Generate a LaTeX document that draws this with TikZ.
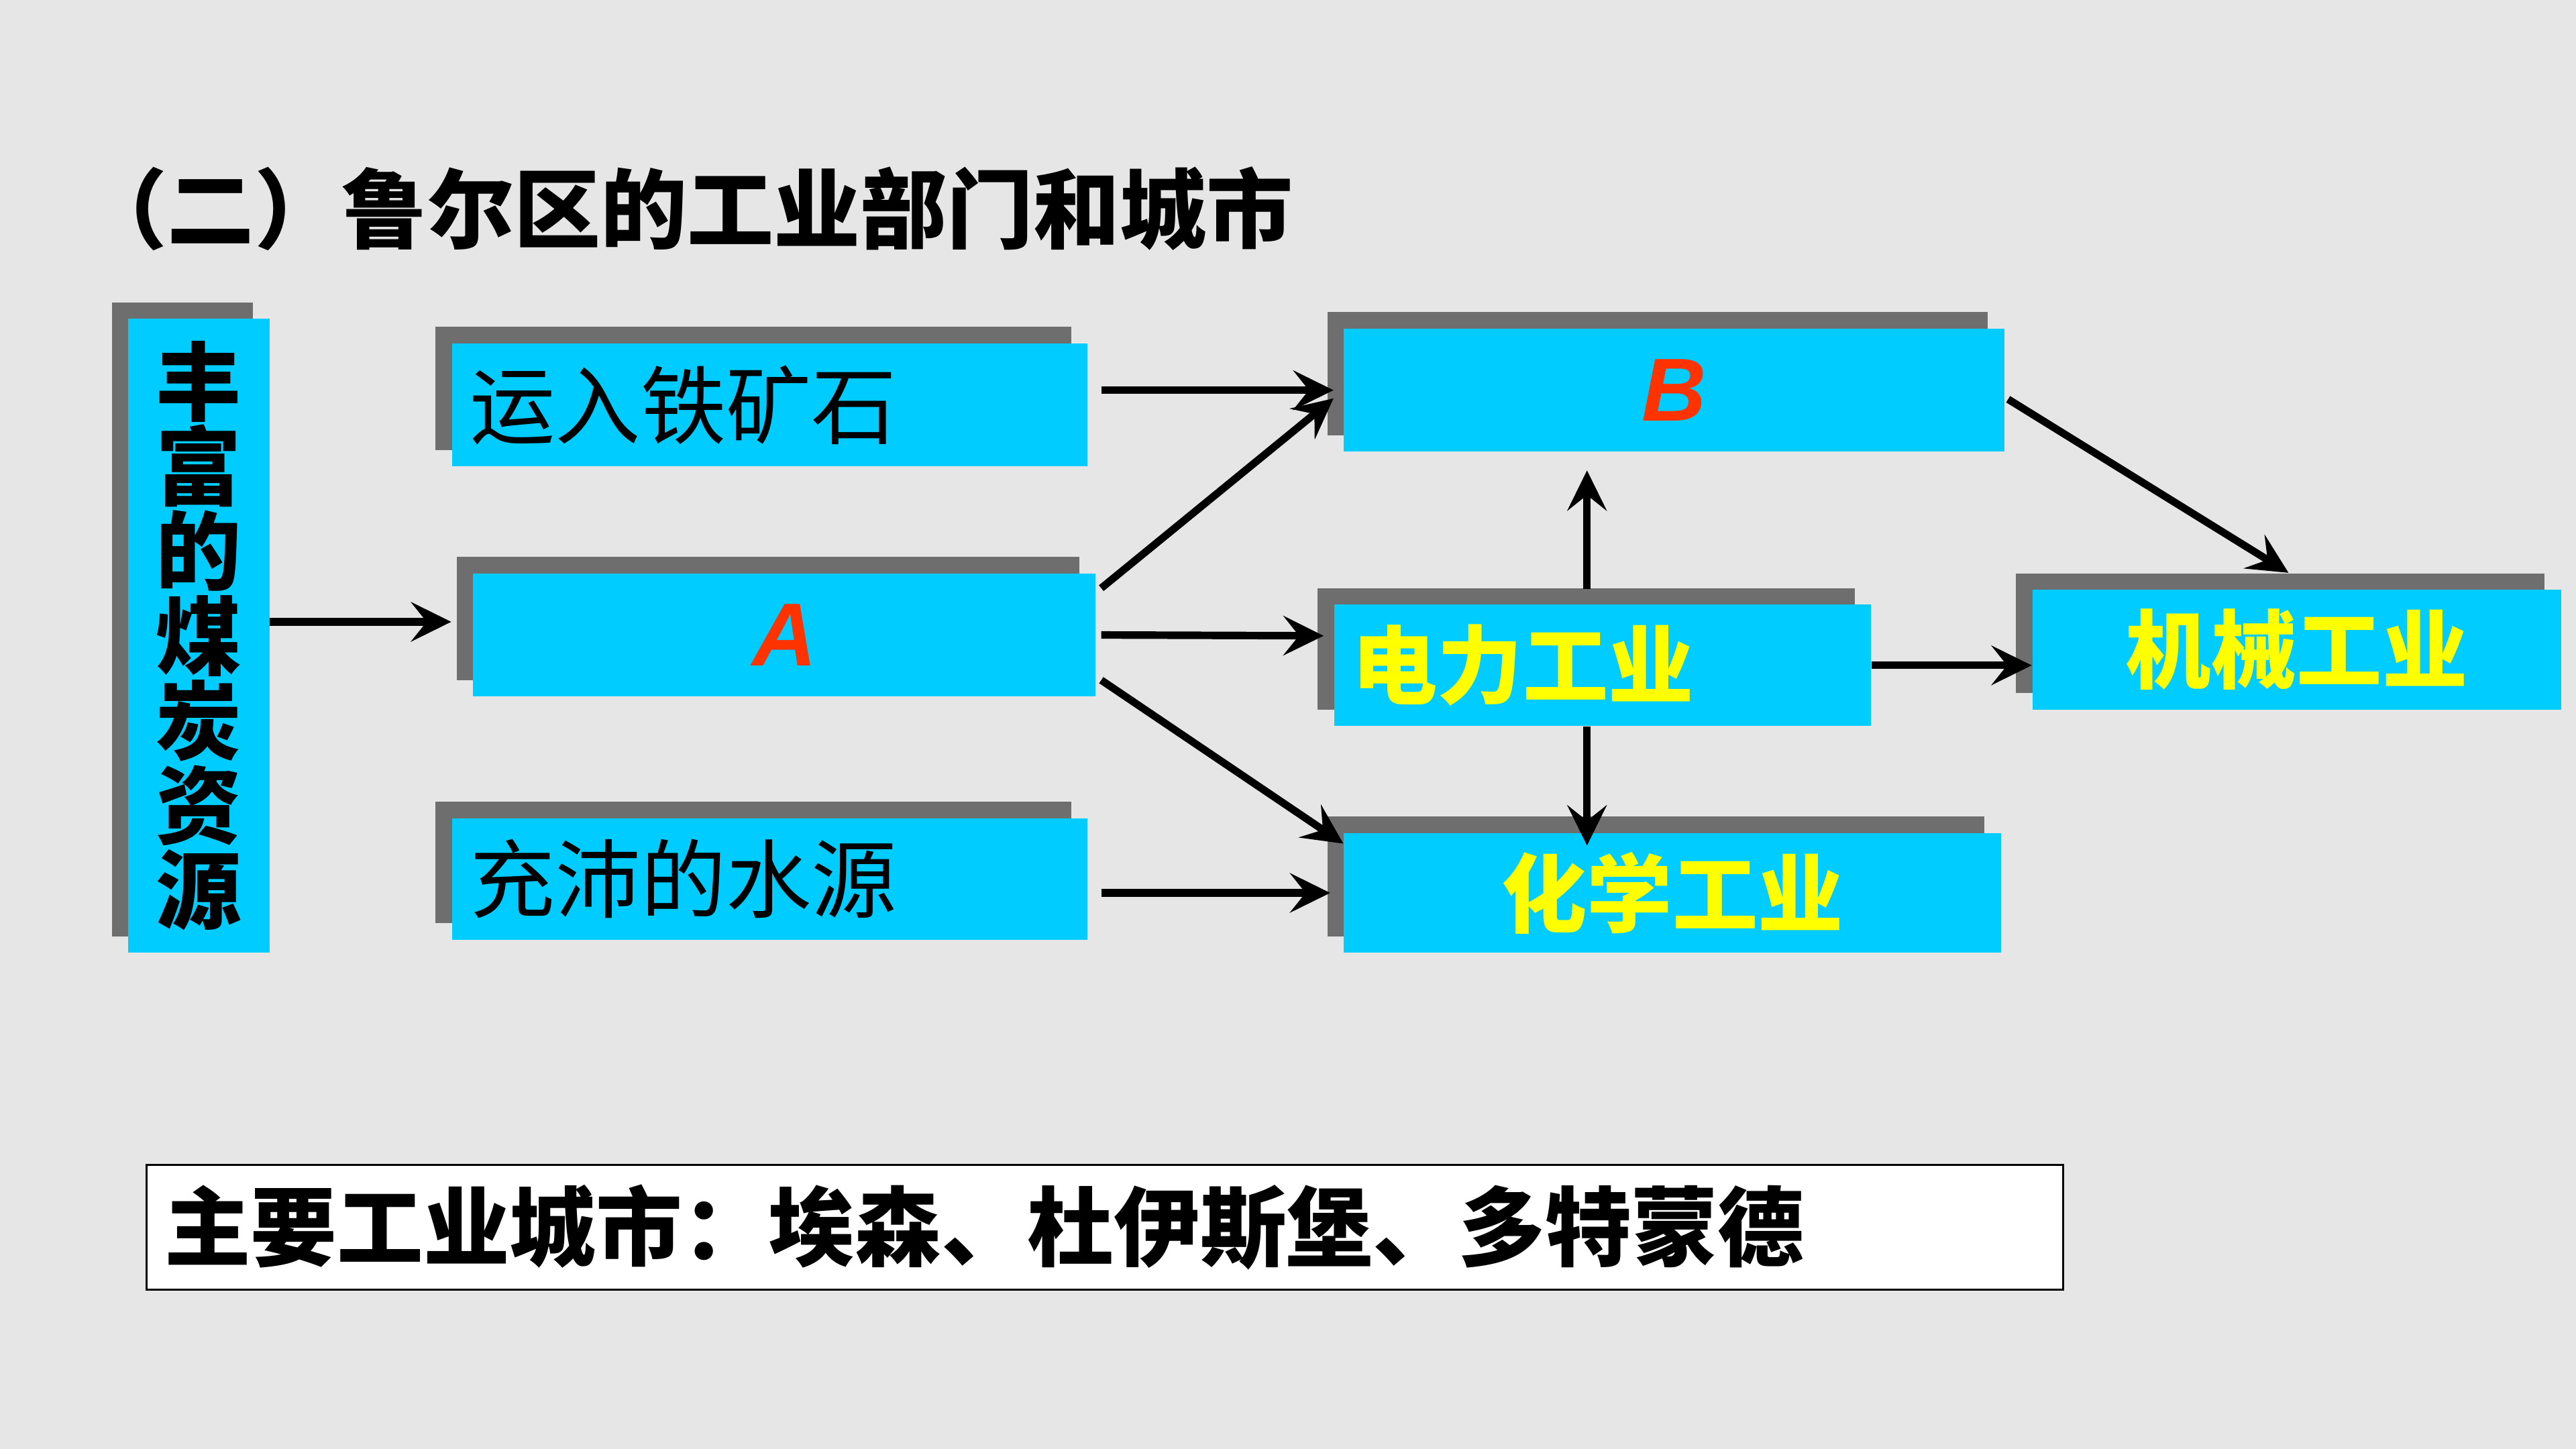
\documentclass[tikz,border=0pt]{standalone}
\usepackage{fontspec}
\newfontfamily\cjk{Noto Sans CJK SC}
\newfontfamily\latin{Liberation Sans}
\usetikzlibrary{arrows.meta,shadows}

\definecolor{bggray}{HTML}{E6E6E6}
\definecolor{boxcyan}{HTML}{00CCFF}
\definecolor{shadowgray}{HTML}{6E6E6E}
\definecolor{letterred}{HTML}{FF3300}
\definecolor{labelyellow}{HTML}{FFFF00}

\newcommand*{\picw}{1568}
\newcommand*{\pich}{882}

\begin{document}
\begin{tikzpicture}
[
	x=0.02cm, y=-0.02cm,
	box/.style={fill=boxcyan, inner sep=0pt, drop shadow={shadow xshift=-0.2cm, shadow yshift=0.2cm, fill=shadowgray, opacity=1}},
	cjkbold/.style={font=\cjk\bfseries\fontsize{29.6pt}{29.3pt}\selectfont},
	cjkplain/.style={font=\cjk\fontsize{29.6pt}{30pt}\selectfont},
	letter/.style={font=\latin\bfseries\itshape\fontsize{31pt}{31pt}\selectfont, text=letterred},
	arr/.style={-{Stealth[length=0.49cm, width=0.48cm, inset=0.19cm]}, line width=2.6pt}
]

	% background
	\fill[bggray] (0,0) rectangle (\picw,\pich);
	\useasboundingbox (0,0) rectangle (\picw,\pich);

	% title
	\node[font=\cjk\bfseries\fontsize{30pt}{30pt}\selectfont, anchor=west, inner sep=0pt] (title) at (49,127) {（二）鲁尔区的工业部门和城市};

	% factors
	\node[box, cjkbold, minimum width=1.72cm, minimum height=7.72cm, align=center] (coal) at (121,387) {丰\\富\\的\\煤\\炭\\资\\源};
	\node[box, cjkplain, minimum height=1.5cm, text width=7.3cm, inner xsep=0.22cm, align=left] (ore) at (468.5,246.5) {运入铁矿石};
	\node[box, letter, minimum width=7.58cm, minimum height=1.5cm] (boxA) at (477.5,386.5) {A};
	\node[box, cjkplain, minimum height=1.48cm, text width=7.3cm, inner xsep=0.22cm, align=left] (water) at (468.5,535) {充沛的水源};

	% industries
	\node[box, letter, minimum width=8.04cm, minimum height=1.5cm] (boxB) at (1019,237.5) {B};
	\node[box, cjkbold, text=labelyellow, minimum height=1.48cm, text width=6.1cm, inner xsep=0.22cm, align=left] (power) at (975.5,405) {电力工业};
	\node[box, cjkbold, text=labelyellow, minimum width=8cm, minimum height=1.46cm] (chem) at (1018,543.5) {化学工业};
	\node[box, cjkbold, text=labelyellow, minimum width=6.44cm, minimum height=1.46cm] (mech) at (1398,395.5) {机械工业};

	% cities
	\node[draw=black, fill=white, line width=0.8pt, font=\cjk\bfseries\fontsize{29.9pt}{30pt}\selectfont, minimum height=1.52cm, text width=22.9cm, inner xsep=0.22cm, inner ysep=0pt, align=left] (cities) at (672.5,747) {主要工业城市：埃森、杜伊斯堡、多特蒙德};

	% connectors
	\draw[arr] ([yshift=0.16cm]boxA.west -| coal.east) -- ([xshift=-0.26cm,yshift=0.16cm]boxA.west);
	\draw[arr] ([xshift=0.16cm]ore.east |- boxB.west) -- ([xshift=-0.12cm]boxB.west);
	\draw[arr] ([xshift=0.06cm,yshift=0.57cm]boxA.east) -- ([xshift=-0.12cm,yshift=-0.1cm]boxB.west);
	\draw[arr] ([xshift=0.06cm]boxA.east) -- ([xshift=-0.12cm,yshift=0.36cm]power.west);
	\draw[arr] ([xshift=0.06cm,yshift=-0.55cm]boxA.east) -- ([yshift=0.6cm]chem.west);
	\draw[arr] ([xshift=0.16cm]water.east |- chem.west) -- ([xshift=-0.16cm]chem.west);
	\draw[arr] ([xshift=-0.19cm,yshift=0.18cm]power.north) -- ([xshift=-0.19cm,yshift=-0.22cm]power.north |- boxB.south);
	\draw[arr] ([xshift=-0.19cm]power.south) -- ([xshift=-0.19cm,yshift=-0.16cm]power.south |- chem.north);
	\draw[arr] (power.east) -- (power.east -| mech.west);
	\draw[arr] ([xshift=0.04cm,yshift=-0.11cm]boxB.east) -- ([xshift=-0.1cm,yshift=0.2cm]mech.north);

\end{tikzpicture}
\end{document}
